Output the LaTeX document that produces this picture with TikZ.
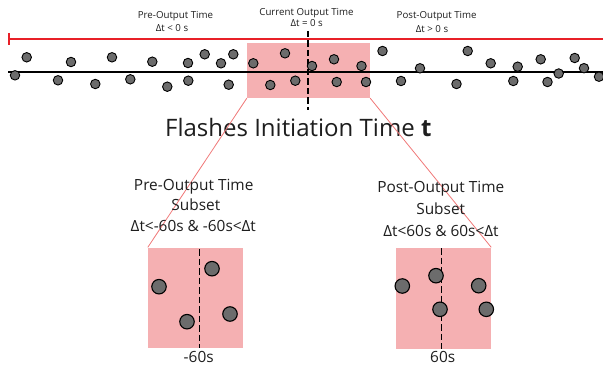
\documentclass[tikz,border=0pt]{standalone}
\usepackage{fontspec}
\setmainfont{Open Sans}
\definecolor{redline}{RGB}{232,32,40}
\definecolor{pinkbox}{RGB}{245,176,178}
\definecolor{dotgray}{RGB}{108,108,108}
\definecolor{zoomline}{RGB}{240,120,120}
\definecolor{txtgray}{RGB}{30,30,30}
\begin{document}
\begin{tikzpicture}[x=1pt,y=-1pt,
  dot/.style={circle,draw=black,fill=dotgray,line width=0.9pt,minimum size=9.5pt,inner sep=0pt},
  bigdot/.style={circle,draw=black,fill=dotgray,line width=1.1pt,minimum size=14.5pt,inner sep=0pt},
  pinkrect/.style={rectangle,fill=pinkbox,draw=none,inner sep=0pt},
  dashline/.style={line width=1.5pt,dash pattern=on 6.5pt off 3pt},
  zoomconn/.style={draw=zoomline,line width=0.8pt},
  smalllbl/.style={font=\fontsize{9.7}{11}\selectfont,text=txtgray,inner sep=0pt,anchor=base},
  midlbl/.style={font=\fontsize{15.4}{17}\selectfont,text=txtgray,inner sep=0pt,anchor=base},
  titlelbl/.style={font=\fontsize{24}{28}\selectfont,text=txtgray,inner sep=0pt,anchor=base}]
\useasboundingbox (0,0) rectangle (603,369);

% pink zoom window on the timeline
\node[pinkrect,minimum width=123pt,minimum height=55pt] (win) at (308.5,70.5) {};

% timelines
\coordinate (rl) at (9,39);
\coordinate (rr) at (603,39);
\coordinate (rlt) at (9,33);
\coordinate (rlb) at (9,45);
\draw[redline,line width=2pt] (rl) -- (rr);
\draw[redline,line width=2pt] (rlt) -- (rlb);
\coordinate (bl) at (8,72);
\coordinate (br) at (603,72);
\draw[black,line width=2pt] (bl) -- (br);

% current time marker
\coordinate (ct) at (308,31);
\coordinate (cb) at (308,110);
\draw[dashline] (ct) -- (cb);

% dots on the timeline
\foreach \x/\y [count=\i] in {15/75.3,26.7/57.3,58/80.3,71/62,95.3/84,112/57.3,130.3/79.3,152.3/61.7,167.3/86.7,188/63,188.3/80.7,204.7/54.3,221/63.3,233.3/54.3,228.7/84.7,253.3/63.3,285/53.3,270.3/85,295.3/80.7,312/66,334/59.3,361.5/66,336.7/82,366/82,382.5/51,401/81,420/68.3,456.5/84,467.7/51,490.7/63.3,517.7/66.7,513.3/81,540.7/59.3,547.5/82,558.7/73.5,574.7/58,584/68.2,599/76.7}
  \node[dot] (d\i) at (\x,\y) {};

% top labels
\node[smalllbl] (pre1) at (175.5,19) {Pre-Output Time};
\node[smalllbl] (pre2) at (172,32) {Δt < 0 s};
\node[smalllbl] (cur1) at (306.5,16) {Current Output Time};
\node[smalllbl] (cur2) at (306.7,26.7) {Δt = 0 s};
\node[smalllbl] (post1) at (436.7,19) {Post-Output Time};
\node[smalllbl] (post2) at (432,32.5) {Δt > 0 s};

% title
\node[titlelbl] (title) at (298.3,136.5) {Flashes Initiation Time \textbf{t}};

% lower boxes
\node[pinkrect,minimum width=95pt,minimum height=100pt] (lbox) at (195.5,297.5) {};
\node[pinkrect,minimum width=95pt,minimum height=101pt] (rbox) at (443.5,298) {};

% connectors from zoom window to subsets
\draw[zoomconn] (win.south west) -- (lbox.north west);
\draw[zoomconn] (win.south east) -- (rbox.north east);

% dashed lines in lower boxes
\coordinate (lt) at (199.3,249);
\coordinate (lb) at (199.3,347.5);
\draw[dashline] (lt) -- (lb);
\coordinate (rt) at (441.7,248);
\coordinate (rb) at (441.7,348.5);
\draw[dashline] (rt) -- (rb);

% dots in lower boxes
\foreach \x/\y [count=\i] in {159/286.7,212/268.7,187/321.7,230/314}
  \node[bigdot] (ld\i) at (\x,\y) {};
\foreach \x/\y [count=\i] in {402.3/286,436/275.7,478.7/285.7,440/309.3,486.3/309.3}
  \node[bigdot] (rd\i) at (\x,\y) {};

% lower labels
\node[midlbl] (lpre1) at (193.7,190) {Pre-Output Time};
\node[midlbl] (lpre2) at (195.8,210.7) {Subset};
\node[midlbl] (lpre3) at (193.3,231.7) {Δt<-60s \& -60s<Δt};
\node[midlbl] (lval) at (198.7,362) {-60s};
\node[midlbl] (rpost1) at (440.8,192) {Post-Output Time};
\node[midlbl] (rpost2) at (440.7,214.3) {Subset};
\node[midlbl] (rpost3) at (441,236) {Δt<60s \& 60s<Δt};
\node[midlbl] (rval) at (442.7,362) {60s};
\end{tikzpicture}
\end{document}
